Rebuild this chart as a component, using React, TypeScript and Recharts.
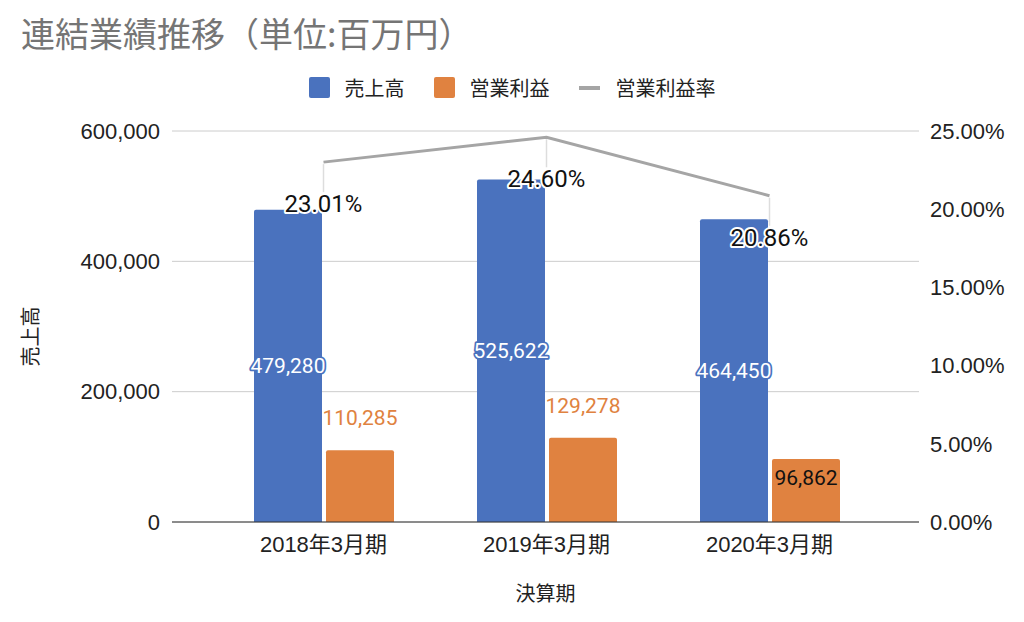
import React from 'react';
import { ComposedChart, Bar, Line, XAxis, YAxis, CartesianGrid, Legend, LabelList } from 'recharts';

const title = '連結業績推移（単位:百万円）';
const categories = ['2018年3月期', '2019年3月期', '2020年3月期'];
const sales = [479280, 525622, 464450];
const operatingProfit = [110285, 129278, 96862];
const operatingMargin = [0.2301, 0.246, 0.2086];
const leftTicks = [0, 200000, 400000, 600000];
const rightTicks = [0, 0.05, 0.1, 0.15, 0.2, 0.25];
const seriesNames = ['売上高', '営業利益', '営業利益率'];
const xAxisTitle = '決算期';
const yAxisTitle = '売上高';

const BLUE = '#4a72be';
const ORANGE = '#e08240';
const GRAY = '#a5a5a5';
const TEXT = '#222222';
const AXIS_FONT = "'Liberation Sans', 'Noto Sans CJK JP', sans-serif";
const LABEL_FONT = "Roboto, 'Noto Sans CJK JP', sans-serif";
const CJK_FONT = "'Noto Sans CJK JP', 'Liberation Sans', sans-serif";

const data = categories.map((name, i) => ({
  name,
  sales: sales[i],
  op: operatingProfit[i],
  margin: operatingMargin[i],
}));

const fmtNum = (v: number) => Number(v).toLocaleString('en-US');
const fmtPct = (v: number) => (Number(v) * 100).toFixed(2) + '%';

const SalesLabel = (props: any) => {
  const x = Number(props.x), y = Number(props.y), w = Number(props.width), h = Number(props.height);
  return (
    <text
      x={x + w / 2}
      y={y + h / 2}
      textAnchor="middle"
      dominantBaseline="central"
      fill="#ffffff"
      stroke={BLUE}
      strokeWidth={3.5}
      strokeLinejoin="round"
      paintOrder="stroke"
      fontSize={21}
      fontFamily={LABEL_FONT}
    >
      {fmtNum(props.value)}
    </text>
  );
};

const OpLabel = (props: any) => {
  const x = Number(props.x), y = Number(props.y), w = Number(props.width);
  const inside = props.index === 2;
  return (
    <text
      x={x + w / 2}
      y={inside ? y + 19 : y - 32}
      textAnchor="middle"
      dominantBaseline="central"
      fill={inside ? '#111111' : ORANGE}
      fontSize={21}
      fontFamily={LABEL_FONT}
    >
      {fmtNum(props.value)}
    </text>
  );
};

const MarginLabel = (props: any) => {
  const x = Number(props.x), y = Number(props.y);
  const cy = y + 42;
  return (
    <g>
      <line x1={x} x2={x} y1={y + 2} y2={cy - 12} stroke="#dddddd" strokeWidth={1.5} />
      <text
        x={x}
        y={cy}
        textAnchor="middle"
        dominantBaseline="central"
        fill="#111111"
        stroke="#ffffff"
        strokeWidth={4}
        strokeLinejoin="round"
        paintOrder="stroke"
        fontSize={24}
        fontFamily={LABEL_FONT}
      >
        {fmtPct(props.value)}
      </text>
    </g>
  );
};

const legendColors = [BLUE, ORANGE, GRAY];

const renderLegend = () => (
  <div
    style={{
      display: 'flex',
      justifyContent: 'center',
      alignItems: 'center',
      height: 21,
      fontFamily: CJK_FONT,
      fontSize: 20,
      color: TEXT,
    }}
  >
    {seriesNames.map((n, i) => (
      <div key={n} style={{ display: 'flex', alignItems: 'center', marginRight: i < 2 ? 29 : 0 }}>
        {i < 2 ? (
          <span style={{ display: 'inline-block', width: 21, height: 21, background: legendColors[i], borderRadius: 2, marginRight: 15 }} />
        ) : (
          <span style={{ display: 'inline-block', width: 21, height: 4, background: legendColors[i], marginRight: 16 }} />
        )}
        <span style={{ lineHeight: '21px' }}>{n}</span>
      </div>
    ))}
  </div>
);

const YTitle = (props: any) => {
  const vb = props.viewBox || { x: 0, y: 131, width: 172, height: 391 };
  const cx = vb.x + 29;
  const cy = vb.y + vb.height / 2 + 10;
  return (
    <text
      x={cx}
      y={cy}
      transform={`rotate(-90, ${cx}, ${cy})`}
      textAnchor="middle"
      dominantBaseline="central"
      fill={TEXT}
      fontSize={20}
      fontFamily={CJK_FONT}
    >
      {yAxisTitle}
    </text>
  );
};

export default function App() {
  return (
    <div style={{ position: 'absolute', left: 0, top: 0, width: 1024, height: 622, background: '#ffffff' }}>
      <div
        style={{
          position: 'absolute',
          left: 21,
          top: 16,
          fontSize: 34,
          lineHeight: 1,
          color: '#757575',
          fontFamily: CJK_FONT,
          whiteSpace: 'nowrap',
          zIndex: 2,
        }}
      >
        {title}
      </div>
      <ComposedChart
        width={1024}
        height={622}
        data={data}
        margin={{ top: 131, right: 0, bottom: 0, left: 0 }}
        barGap={4}
      >
        <CartesianGrid yAxisId="left" vertical={false} stroke="#cccccc" />
        <XAxis
          dataKey="name"
          height={100}
          padding={{ left: 40, right: 38 }}
          tickLine={false}
          tickSize={0}
          tickMargin={14}
          axisLine={{ stroke: '#333333' }}
          tick={{ fill: TEXT, fontSize: 22, fontFamily: AXIS_FONT }}
          label={{ value: xAxisTitle, position: 'insideBottom', offset: 21, fill: TEXT, fontSize: 20, fontFamily: CJK_FONT }}
        />
        <YAxis
          yAxisId="left"
          orientation="left"
          width={172}
          domain={[0, 600000]}
          ticks={leftTicks}
          tickFormatter={fmtNum}
          axisLine={false}
          tickLine={false}
          tickSize={0}
          tickMargin={12}
          tick={{ fill: TEXT, fontSize: 22, fontFamily: AXIS_FONT }}
          label={{ content: YTitle }}
        />
        <YAxis
          yAxisId="right"
          orientation="right"
          width={105}
          domain={[0, 0.25]}
          ticks={rightTicks}
          tickFormatter={fmtPct}
          axisLine={false}
          tickLine={false}
          tickSize={0}
          tickMargin={11}
          tick={{ fill: TEXT, fontSize: 22, fontFamily: AXIS_FONT, textAnchor: 'start' }}
        />
        <Legend
          verticalAlign="middle"
          align="center"
          layout="horizontal"
          content={renderLegend}
          wrapperStyle={{ position: 'absolute', top: 77, left: 0, width: 1024, height: 21 }}
        />
        <Bar yAxisId="left" dataKey="sales" name={seriesNames[0]} fill={BLUE} barSize={68} radius={[2, 2, 0, 0]} isAnimationActive={false}>
          <LabelList dataKey="sales" content={SalesLabel} />
        </Bar>
        <Bar yAxisId="left" dataKey="op" name={seriesNames[1]} fill={ORANGE} barSize={68} radius={[2, 2, 0, 0]} isAnimationActive={false}>
          <LabelList dataKey="op" content={OpLabel} />
        </Bar>
        <Line
          yAxisId="right"
          type="linear"
          dataKey="margin"
          name={seriesNames[2]}
          stroke={GRAY}
          strokeWidth={3}
          dot={false}
          activeDot={false}
          isAnimationActive={false}
        >
          <LabelList dataKey="margin" content={MarginLabel} />
        </Line>
      </ComposedChart>
    </div>
  );
}
